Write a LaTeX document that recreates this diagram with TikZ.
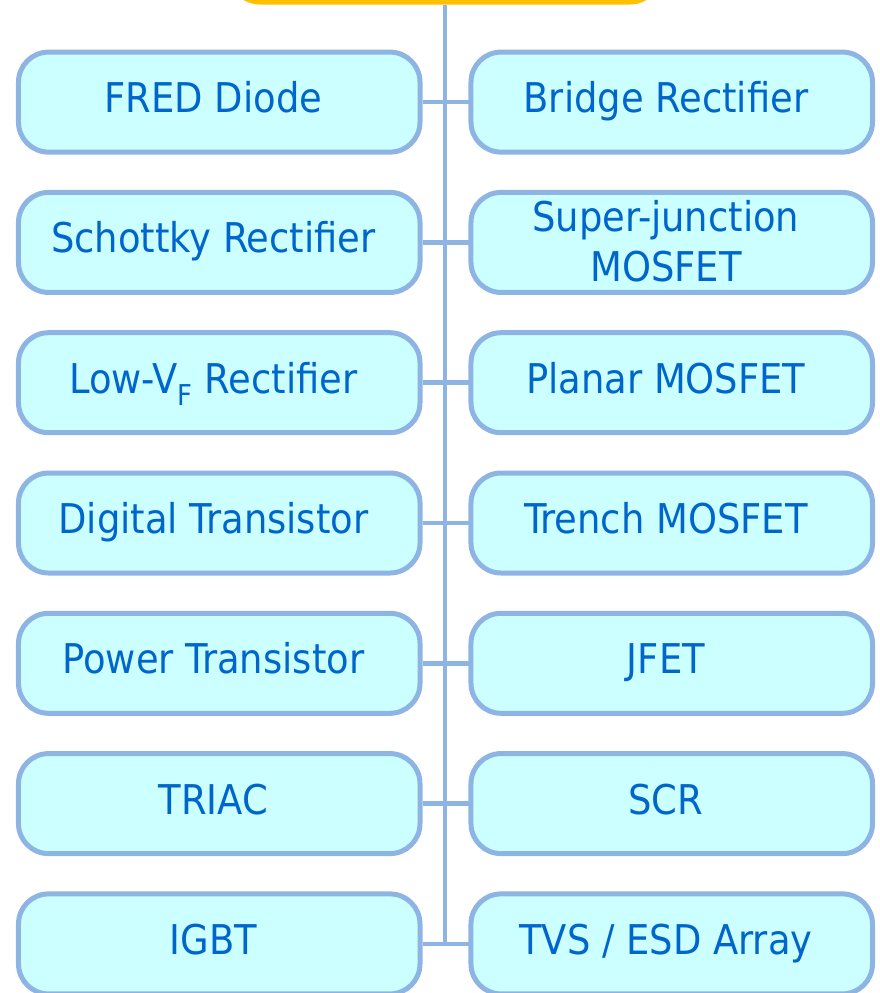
\documentclass[tikz,border=0pt]{standalone}
\usepackage{fontspec}
\setmainfont{DejaVu Sans Condensed}
\usepackage{tikz}
\usetikzlibrary{positioning, matrix, calc}

\definecolor{boxfill}{HTML}{CCFFFF}
\definecolor{boxline}{HTML}{8EB4E3}
\definecolor{boxtext}{HTML}{0066CC}
\definecolor{topline}{HTML}{FFC000}
\newcommand{\twolines}[2]{\begin{tabular}{@{}c@{}}#1\\#2\end{tabular}}

\begin{document}
\begin{tikzpicture}[x=1pt, y=1pt,
    part/.style={draw=boxline, line width=5pt, fill=boxfill, rounded corners=30pt, text=boxtext, anchor=center,
        minimum width=401.5pt, minimum height=100pt, text height=29pt, text depth=8pt, align=center,
        font=\fontsize{41}{50}\selectfont},
    head/.style={draw=topline, line width=5pt, fill=white, rounded corners=30pt, minimum width=430pt, minimum height=100pt},
    link/.style={draw=boxline, line width=4.5pt}]
    \useasboundingbox (0,0) rectangle (879,-993);
    \clip (0,0) rectangle (879,-993);
    \node[head] (top) at (445,48) {};
    \matrix[matrix of nodes,
        nodes={part},
        column sep=46pt, row sep=35.3pt,
        ampersand replacement=\&] (m) at (445.5,-523) {
        FRED Diode \& Bridge Rectifier \\
        Schottky Rectifier \& \twolines{Super-junction}{MOSFET} \\
        Low-V\textsubscript{F} Rectifier \& Planar MOSFET \\
        Digital Transistor \& Trench MOSFET \\
        Power Transistor \& JFET \\
        TRIAC \& SCR \\
        IGBT \& TVS / ESD Array \\
    };
    \coordinate (trunk) at (top.south |- m-7-1.east);
    \draw[link] (top.south) -- (trunk);
    \foreach \i in {1,...,7}
        \draw[link] (m-\i-1.east) -- (m-\i-2.west);
\end{tikzpicture}
\end{document}
